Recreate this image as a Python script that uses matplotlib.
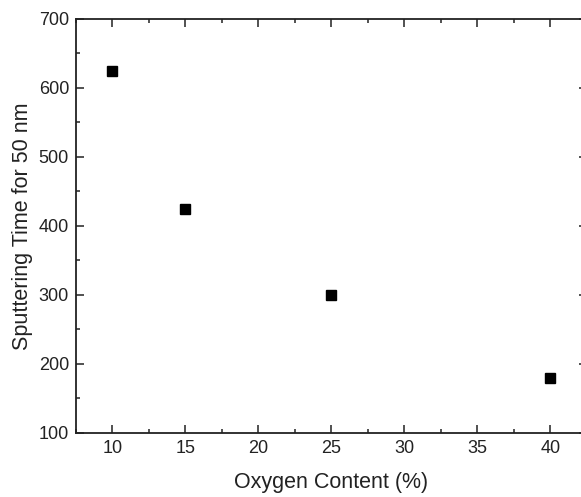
import matplotlib
matplotlib.use('Agg')
import matplotlib.pyplot as plt
from matplotlib.ticker import MultipleLocator

plt.rcParams['font.family'] = ['Liberation Sans', 'DejaVu Sans']

oxygen = [10, 15, 25, 40]
sputter_time = [625, 424, 300, 179]

fig = plt.figure(figsize=(5.81, 4.97), dpi=100)
ax = fig.add_axes([0.1308, 0.1288, 0.8795, 0.833])

ax.plot(oxygen, sputter_time, linestyle='none', marker='s', color='black', markersize=6.5)

ax.set_xlim(7.5, 42.5)
ax.set_ylim(100, 700)
ax.xaxis.set_major_locator(MultipleLocator(5))
ax.xaxis.set_minor_locator(MultipleLocator(2.5))
ax.yaxis.set_major_locator(MultipleLocator(100))
ax.yaxis.set_minor_locator(MultipleLocator(50))
ax.tick_params(which='both', direction='in', top=True, right=True, labelsize=13, width=1.1, colors='#222222')
ax.tick_params(which='major', length=6, pad=5)
ax.tick_params(which='minor', length=3)
for s in ax.spines.values():
    s.set_linewidth(1.3)
    s.set_color('#222222')

ax.set_xlabel('Oxygen Content (%)', fontsize=15.5, color='#222222', labelpad=11)
ax.set_ylabel('Sputtering Time for 50 nm', fontsize=15.5, color='#222222', labelpad=4)

fig.savefig('out.png', dpi=100)
